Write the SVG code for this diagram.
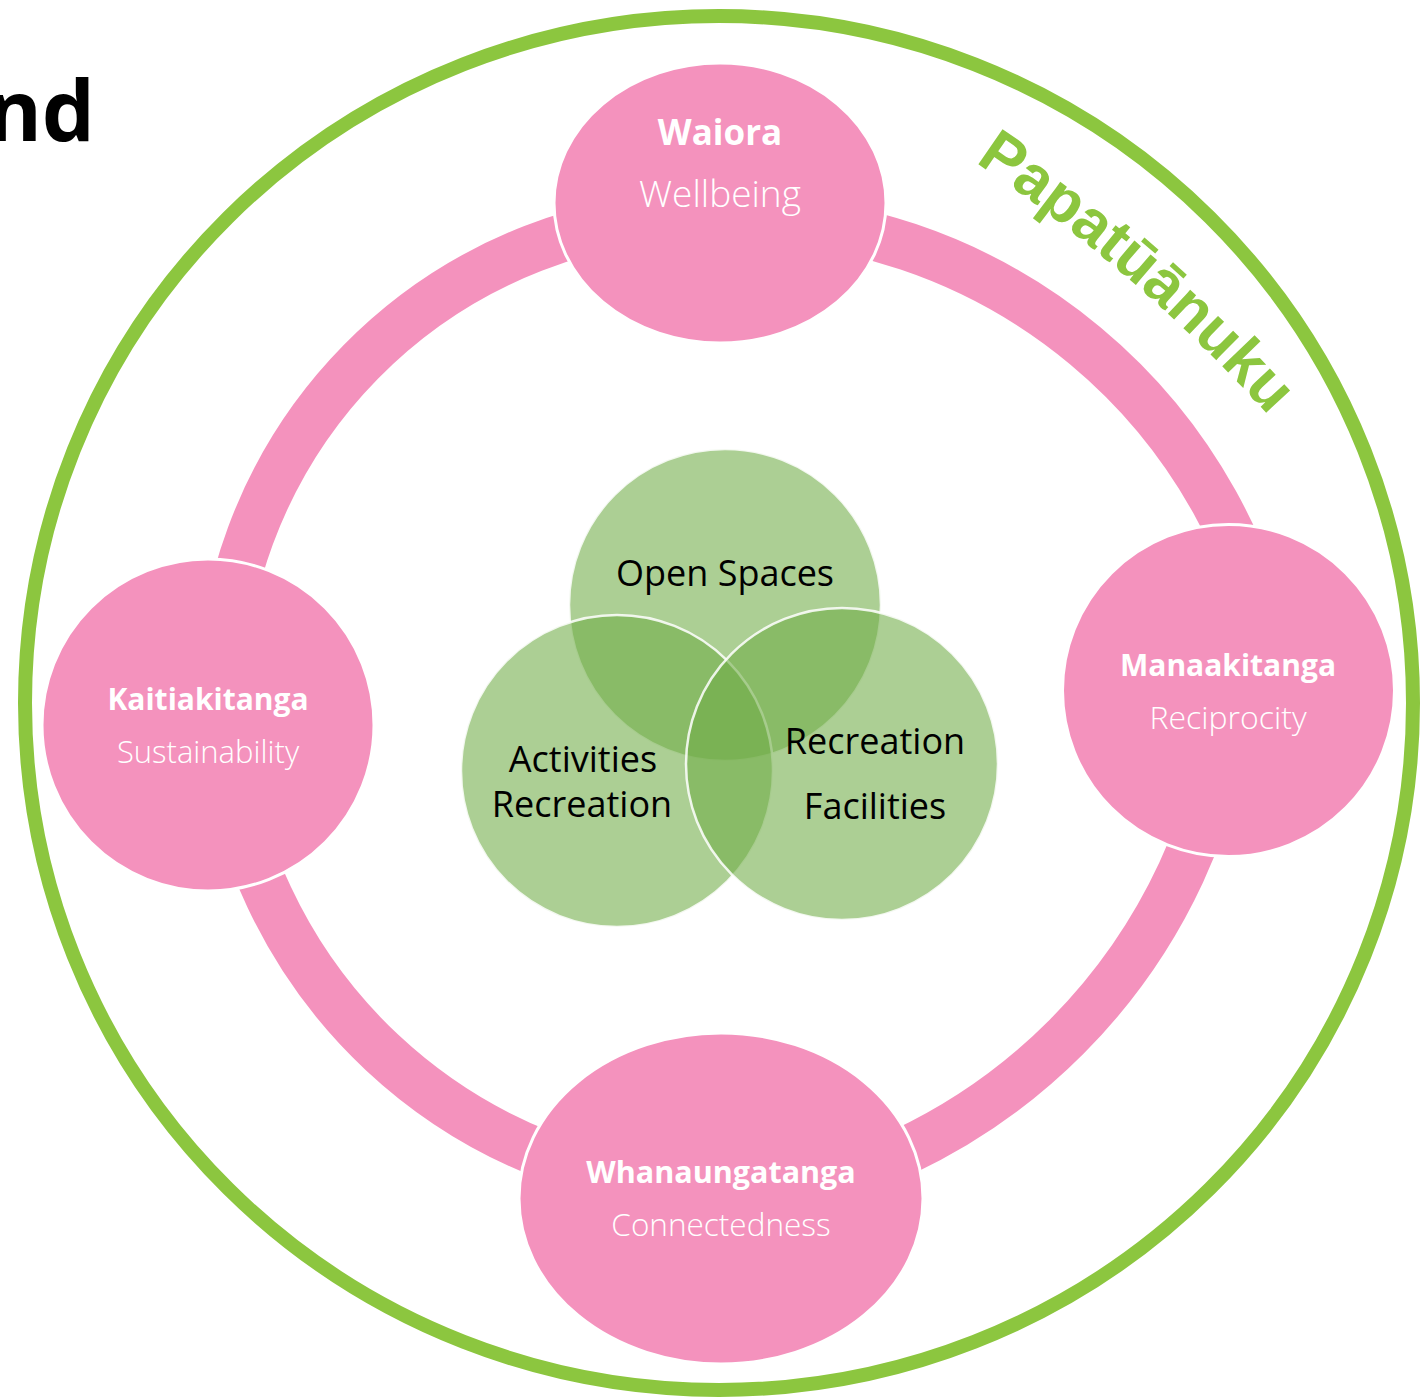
<svg xmlns="http://www.w3.org/2000/svg" width="1422" height="1397" viewBox="0 0 1422 1397">
  <style>
    .ring { fill: none; stroke: #F492BD; stroke-width: 48; }
    .pnode { fill: #F492BD; stroke: #FFFFFF; stroke-width: 3; }
    .bold { font-family: "Open Sans", "Noto Sans", sans-serif; font-weight: 700; fill: #FFFFFF; text-anchor: middle; }
    .light { font-family: "Open Sans", "Noto Sans", sans-serif; font-weight: 300; fill: #FFFFFF; text-anchor: middle; }
    .venn { fill: #70AD47; fill-opacity: 0.58; stroke: #FFFFFF; stroke-width: 2.5; stroke-opacity: 0.85; }
    .vtext { font-family: "Open Sans", "Noto Sans", sans-serif; font-size: 36px; fill: #000000; text-anchor: middle; }
  </style>
  <defs>
    <path id="papaPath" d="M 975 162 Q 1137 270 1268 415"/>
  </defs>
  <rect width="1422" height="1397" fill="#FFFFFF"/>

  <g id="title">
    <text x="95" y="141" font-family="'Open Sans', 'Noto Sans', sans-serif" font-weight="700" font-size="84" fill="#000000" text-anchor="end">nd</text>
  </g>

  <g id="papatuanuku">
    <ellipse cx="719" cy="703" rx="694" ry="687" fill="none" stroke="#8CC63F" stroke-width="14"/>
    <text font-family="'Liberation Sans', Arial, sans-serif" font-weight="700" font-size="62" fill="#8CC63F"><textPath href="#papaPath">Papatūānuku</textPath></text>
  </g>

  <g id="connectors">
    <path class="ring" d="M 719.6 215.1 A 491 491 0 0 0 220.3 723.1"/>
    <path class="ring" d="M 720.4 218.1 A 552 552 0 0 1 1276.9 681.7"/>
    <path class="ring" d="M 1231.7 690.4 A 578 578 0 0 1 721.4 1203.4"/>
    <path class="ring" d="M 721.1 1189.9 A 509 509 0 0 1 222.8 723.6"/>
  </g>

  <g id="waiora">
    <ellipse class="pnode" cx="720" cy="203" rx="166" ry="140"/>
    <text class="bold" x="720" y="145" font-size="35">Waiora</text>
    <text class="light" x="720" y="207" font-size="37">Wellbeing</text>
  </g>

  <g id="manaakitanga">
    <circle class="pnode" cx="1228.5" cy="690.5" r="166"/>
    <text class="bold" x="1228" y="676" font-size="30">Manaakitanga</text>
    <text class="light" x="1228" y="729" font-size="32">Reciprocity</text>
  </g>

  <g id="whanaungatanga">
    <ellipse class="pnode" cx="721" cy="1198.5" rx="202" ry="165.5"/>
    <text class="bold" x="721" y="1183" font-size="30.5">Whanaungatanga</text>
    <text class="light" x="721" y="1236" font-size="31.5">Connectedness</text>
  </g>

  <g id="kaitiakitanga">
    <circle class="pnode" cx="208" cy="725" r="166"/>
    <text class="bold" x="208" y="710" font-size="30">Kaitiakitanga</text>
    <text class="light" x="208" y="763" font-size="31">Sustainability</text>
  </g>

  <g id="open-spaces">
    <circle class="venn" cx="725" cy="605" r="156"/>
  </g>
  <g id="activities-recreation">
    <circle class="venn" cx="617" cy="771" r="156"/>
  </g>
  <g id="recreation-facilities">
    <circle class="venn" cx="842" cy="764" r="156"/>
  </g>
  <g id="venn-labels">
    <text class="vtext" x="725" y="586">Open Spaces</text>
    <text class="vtext" x="583" y="772">Activities</text>
    <text class="vtext" x="582" y="817">Recreation</text>
    <text class="vtext" x="875" y="754">Recreation</text>
    <text class="vtext" x="875" y="819">Facilities</text>
  </g>
</svg>
